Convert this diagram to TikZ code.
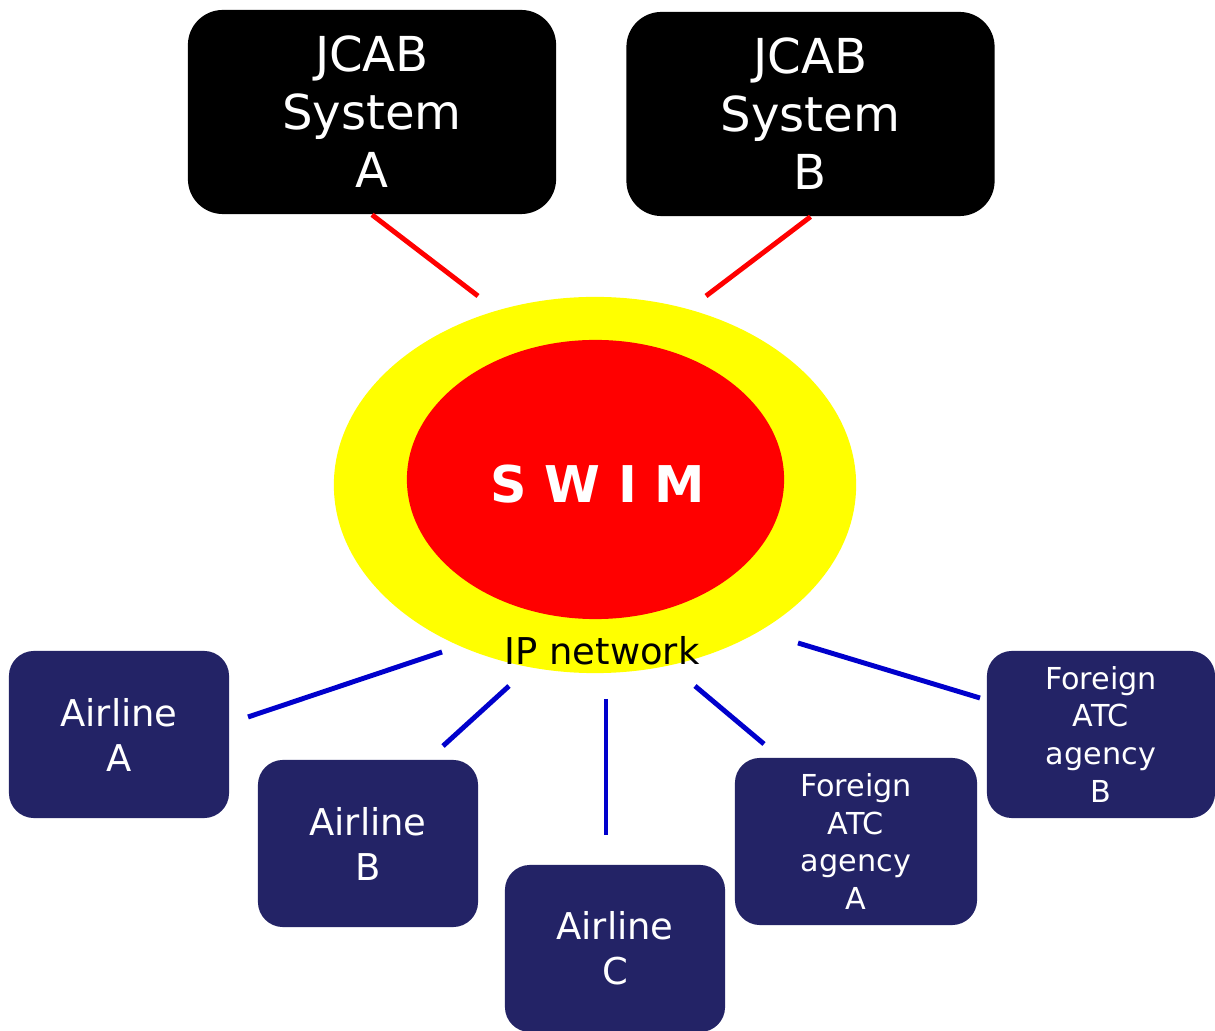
\documentclass[tikz,border=0pt]{standalone}
\usepackage{fontspec}
\setmainfont{DejaVu Sans}
\usepackage{xcolor}
\usepackage{tikz}
\definecolor{airnavy}{RGB}{35, 35, 102}
\definecolor{swimred}{RGB}{255, 0, 0}
\definecolor{ipyellow}{RGB}{255, 255, 0}
\definecolor{linkblue}{RGB}{0, 0, 204}
\usetikzlibrary{shapes.geometric, positioning, calc}

\begin{document}
\begin{tikzpicture}[
    x=0.01cm, y=-0.01cm,
    jcabbox/.style={rectangle, fill=black, text=white, align=center,
                    minimum width=3.68cm, minimum height=2.04cm,
                    rounded corners=0.35cm, inner sep=0pt,
                    font=\fontsize{13.7}{16.5}\selectfont},
    airbox/.style={rectangle, fill=airnavy, text=white, align=center,
                   minimum width=2.2cm, minimum height=1.67cm,
                   rounded corners=0.25cm, inner sep=0pt,
                   font=\fontsize{10.5}{12.8}\selectfont},
    atcbox/.style={airbox, font=\fontsize{8.6}{10.8}\selectfont},
    redlink/.style={draw=swimred, line width=1.4pt},
    bluelink/.style={draw=linkblue, line width=1.4pt}
]
    \useasboundingbox (0,0) rectangle (1215,1031);

    % SWIM core
    \node[ellipse, fill=ipyellow, minimum width=5.22cm, minimum height=3.76cm,
          inner sep=0pt] (ipnet) at (595,485) {};
    \node[ellipse, fill=swimred, minimum width=3.77cm, minimum height=2.79cm,
          inner sep=0pt] (swim) at (595.5,479.5) {};
    \node[text=white, font=\fontsize{14.4}{16}\selectfont\bfseries] (swimlabel)
        at (598,484) {S W I M};
    \node[anchor=base, font=\fontsize{10.5}{12}\selectfont] (iplabel)
        at (602,665) {IP network};

    % JCAB side
    \node[jcabbox] (jcaba) at (372,112) {JCAB\\System\\A};
    \node[jcabbox] (jcabb) at (810.5,114) {JCAB\\System\\B};

    % Users side
    \node[airbox] (aira) at (119,734.5) {Airline\\A};
    \node[airbox] (airb) at (368,843.5) {Airline\\B};
    \node[airbox] (airc) at (615,948.5) {Airline\\C};
    \node[atcbox, minimum width=2.42cm] (atca) at (856,841.5) {Foreign\\ATC\\agency\\A};
    \node[atcbox, minimum width=2.28cm] (atcb) at (1101,734.5) {Foreign\\ATC\\agency\\B};

    % Link ends
    \coordinate (ja) at (478,296);
    \coordinate (jb) at (706,296);
    \coordinate (aa1) at (442,652);
    \coordinate (aa2) at (248,717);
    \coordinate (ab1) at (509,686);
    \coordinate (ab2) at (443,746);
    \coordinate (ac1) at (606,699);
    \coordinate (ac2) at (606,835);
    \coordinate (fa1) at (695,686);
    \coordinate (fa2) at (764,744);
    \coordinate (fb1) at (798,643);
    \coordinate (fb2) at (980,698);

    % Links
    \draw[redlink] (jcaba.south) -- (ja);
    \draw[redlink] (jcabb.south) -- (jb);
    \draw[bluelink] (aa1) -- (aa2);
    \draw[bluelink] (ab1) -- (ab2);
    \draw[bluelink] (ac1) -- (ac2);
    \draw[bluelink] (fa1) -- (fa2);
    \draw[bluelink] (fb1) -- (fb2);
\end{tikzpicture}
\end{document}
